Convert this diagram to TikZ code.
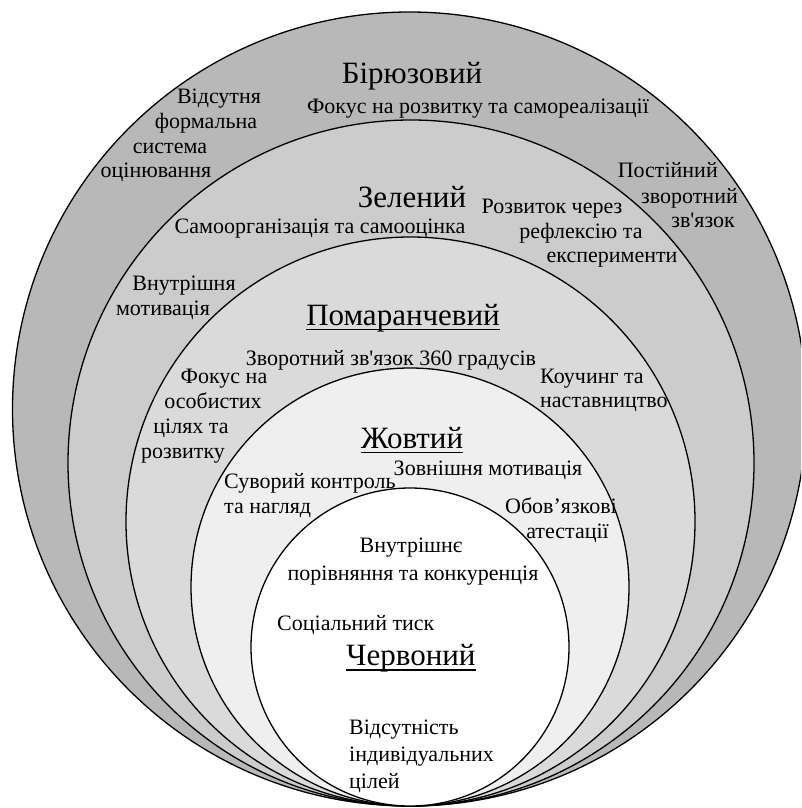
\documentclass[tikz,border=0pt]{standalone}
\usepackage{fontspec}
\setmainfont{Liberation Serif}
\definecolor{ringA}{RGB}{184,184,184}
\definecolor{ringB}{RGB}{204,204,204}
\definecolor{ringC}{RGB}{218,218,218}
\definecolor{ringD}{RGB}{239,239,239}
\definecolor{ringE}{RGB}{255,255,255}
\newcommand{\apo}{\textquotesingle}
\begin{document}
\begin{tikzpicture}[x=1pt,y=-1pt,
  ring/.style={draw=black,line width=1.3pt},
  txt/.style={inner sep=0pt,font=\fontsize{22}{26}\selectfont,anchor=base},
  txtl/.style={txt,anchor=base west},
  txtr/.style={txt,anchor=base east},
  head/.style={inner sep=0pt,font=\fontsize{31}{36}\selectfont,anchor=base},
  uline/.style={line width=1.2pt}]
\useasboundingbox (0,0) rectangle (801,808);
\clip (0,0) rectangle (801,808);

% nested levels, all touching at the bottom
\filldraw[ring,fill=ringA] (409.5,409) circle[radius=397pt];
\filldraw[ring,fill=ringB] (411,463) circle[radius=343pt];
\filldraw[ring,fill=ringC] (410.5,521.5) circle[radius=284.5pt];
\filldraw[ring,fill=ringD] (410,587) circle[radius=219pt];
\filldraw[ring,fill=ringE] (410,647) circle[radius=159pt];

% turquoise level
\node[head] (bir) at (412,83) {Бірюзовий};
\node[txt] (bir1) at (478,113) {Фокус на розвитку та самореалізації};
\node[txt] (bir2a) at (219,103) {Відсутня};
\node[txt] (bir2b) at (206,128) {формальна};
\node[txt] (bir2c) at (170,153) {система};
\node[txt] (bir2d) at (156,177) {оцінювання};
\node[txtr] (bir3a) at (718,177) {Постійний};
\node[txtr] (bir3b) at (738,203) {зворотний};
\node[txtr] (bir3c) at (735,227) {зв\apo язок};

% green level
\node[head] (zel) at (412,207) {Зелений};
\node[txt] (zel1) at (320,233) {Самоорганізація та самооцінка};
\node[txt] (zel2a) at (552,213) {Розвиток через};
\node[txt] (zel2b) at (581,238) {рефлексію та};
\node[txt] (zel2c) at (612,262) {експерименти};
\node[txt] (zel3a) at (184,290) {Внутрішня};
\node[txt] (zel3b) at (163,315) {мотивація};

% orange level
\node[head] (pom) at (403,325) {Помаранчевий};
\draw[uline] ([yshift=-4.5pt]pom.base west) -- ([yshift=-4.5pt]pom.base east);
\node[txt] (pom1) at (391,365) {Зворотний зв\apo язок 360 градусів};
\node[txt] (pom2a) at (224,383) {Фокус на};
\node[txt] (pom2b) at (213,408) {особистих};
\node[txt] (pom2c) at (191,433) {цілях та};
\node[txt] (pom2d) at (183,458) {розвитку};
\node[txtl] (pom3a) at (540,383) {Коучинг та};
\node[txtl] (pom3b) at (540,407) {наставництво};

% yellow level
\node[head] (zho) at (412,448) {Жовтий};
\draw[uline] ([yshift=-4.5pt]zho.base west) -- ([yshift=-4.5pt]zho.base east);
\node[txt] (zho1) at (488,475) {Зовнішня мотивація};
\node[txtl] (zho2a) at (224,488) {Суворий контроль};
\node[txtl] (zho2b) at (224,513) {та нагляд};
\node[txtr] (zho3a) at (617,513) {Обов’язкові};
\node[txtr] (zho3b) at (609,538) {атестації};

% red level
\node[txt] (che1a) at (411,552) {Внутрішнє};
\node[txt] (che1b) at (413,580) {порівняння та конкуренція};
\node[txtl] (che2) at (277,630) {Соціальний тиск};
\node[head] (che) at (411,665) {Червоний};
\draw[uline] ([yshift=-5pt]che.base west) -- ([yshift=-5pt]che.base east);
\node[txtl] (che3a) at (349,734) {Відсутність};
\node[txtl] (che3b) at (349,761) {індивідуальних};
\node[txtl] (che3c) at (349,788) {цілей};
\end{tikzpicture}
\end{document}
